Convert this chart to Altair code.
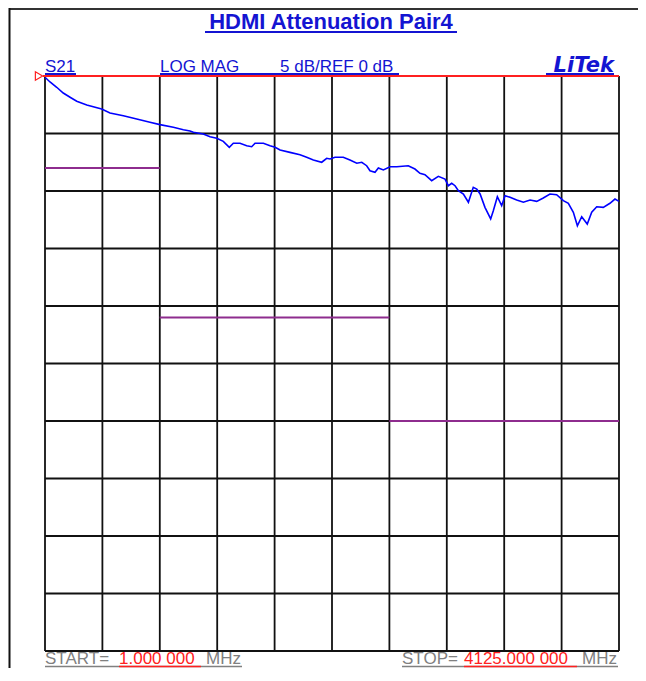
import altair as alt
import pandas as pd

# ---- data ----
freq_mhz = [1, 37, 85, 132, 181, 229, 301, 408, 468, 564, 660, 755, 827, 923, 995, 1043,
            1067, 1138, 1187, 1235, 1282, 1325, 1354, 1402, 1450, 1486, 1510, 1570, 1618,
            1654, 1690, 1761, 1833, 1881, 1929, 1989, 2025, 2049, 2085, 2144, 2192, 2241,
            2277, 2312, 2336, 2372, 2396, 2432, 2480, 2528, 2611, 2659, 2695, 2731, 2779,
            2827, 2875, 2899, 2923, 2947, 2971, 3007, 3043, 3078, 3103, 3127, 3162, 3203,
            3222, 3251, 3282, 3306, 3342, 3390, 3438, 3486, 3534, 3581, 3629, 3677, 3725,
            3761, 3797, 3826, 3857, 3897, 3929, 3965, 4012, 4060, 4096, 4125]
s21_db = [-0.11, -0.52, -0.98, -1.48, -1.85, -2.20, -2.52, -2.87, -3.22, -3.45, -3.74, -4.03,
          -4.23, -4.46, -4.67, -4.78, -4.90, -5.04, -5.28, -5.42, -5.68, -6.20, -5.85, -5.85,
          -6.06, -6.15, -5.85, -5.85, -6.06, -6.20, -6.44, -6.64, -6.84, -7.07, -7.30, -7.50,
          -7.16, -7.22, -7.07, -7.07, -7.30, -7.59, -7.50, -7.80, -8.24, -8.37, -8.00, -8.17,
          -7.89, -7.89, -7.80, -8.09, -8.46, -8.58, -9.10, -8.72, -8.96, -9.54, -9.33, -9.54,
          -9.97, -10.26, -10.98, -9.68, -9.83, -10.26, -11.42, -12.43, -11.71, -10.50, -11.28,
          -10.41, -10.55, -10.78, -10.98, -10.78, -10.90, -10.61, -10.26, -10.32, -10.84,
          -11.07, -11.85, -13.02, -12.24, -12.87, -11.85, -11.37, -11.42, -11.07, -10.70, -10.90]

limit_f_start = [1, 825, 2475]
limit_f_end = [825, 2475, 4125]
limit_db = [-8, -21, -30]

START, STOP = 1.0, 4125.0
REF_DB, BOTTOM_DB, DB_PER_DIV = 0, -50, 5
x_ticks = [START + (STOP - START) * i / 10 for i in range(11)]
y_ticks = list(range(BOTTOM_DB, REF_DB + 1, DB_PER_DIV))

W, H = 574, 575
BLUE = "#1414D2"
RED = "#FF2020"
GREY = "#808080"
PURPLE = "#8E2C8E"
FONT = "Liberation Sans"

xs = alt.Scale(domain=[START, STOP], nice=False, zero=False)
ys = alt.Scale(domain=[BOTTOM_DB, REF_DB], nice=False, zero=False)

curve_df = pd.DataFrame({"f": freq_mhz, "db": s21_db})
limit_df = pd.DataFrame({"f0": limit_f_start, "f1": limit_f_end, "db": limit_db})
vgrid_df = pd.DataFrame({"f": x_ticks, "lo": BOTTOM_DB, "hi": REF_DB})
hgrid_df = pd.DataFrame({"db": y_ticks, "f0": START, "f1": STOP})
ref_df = pd.DataFrame({"db": [REF_DB]})
one = pd.DataFrame({"k": [0]})

vgrid = alt.Chart(vgrid_df).mark_rule(color="#111111", strokeWidth=1.8).encode(
    x=alt.X("f:Q", scale=xs, axis=None),
    y=alt.Y("lo:Q", scale=ys, axis=None),
    y2="hi:Q",
)
hgrid = alt.Chart(hgrid_df).mark_rule(color="#111111", strokeWidth=1.8).encode(
    y=alt.Y("db:Q", scale=ys, axis=None),
    x=alt.X("f0:Q", scale=xs, axis=None),
    x2="f1:Q",
)
limits = alt.Chart(limit_df).mark_rule(color=PURPLE, strokeWidth=2).encode(
    x=alt.X("f0:Q", scale=xs, axis=None),
    x2="f1:Q",
    y=alt.Y("db:Q", scale=ys, axis=None),
)
curve = alt.Chart(curve_df).mark_line(color="#0000FF", strokeWidth=1.6, clip=True).encode(
    x=alt.X("f:Q", scale=xs, axis=None),
    y=alt.Y("db:Q", scale=ys, axis=None),
)
refline = alt.Chart(ref_df).mark_rule(color=RED, strokeWidth=2).encode(
    y=alt.Y("db:Q", scale=ys, axis=None),
    x=alt.value(-2),
    x2=alt.value(W),
)
refmark = alt.Chart(ref_df).mark_point(shape="triangle-right", filled=False, color=RED,
                                       strokeWidth=1.2, size=70, opacity=1).encode(
    y=alt.Y("db:Q", scale=ys, axis=None),
    x=alt.value(-6),
)


def txt(text, x, y, color, size, align="left", weight="normal", style="normal", font=FONT):
    return alt.Chart(one).mark_text(text=text, align=align, baseline="alphabetic",
                                    color=color, fontSize=size, fontWeight=weight,
                                    fontStyle=style, font=font).encode(
        x=alt.value(x), y=alt.value(y))


def uline(x0, x1, y, color, w=2):
    return alt.Chart(one).mark_rule(color=color, strokeWidth=w).encode(
        x=alt.value(x0), x2=alt.value(x1), y=alt.value(y))


texts = [
    txt("HDMI Attenuation Pair4", 286, -47, BLUE, 22, align="center", weight="bold"),
    uline(160, 412, -44, BLUE),
    txt("S21", 0, -4, BLUE, 17),
    uline(0, 31, -2, BLUE),
    txt("LOG MAG", 115, -4, BLUE, 17),
    txt("5 dB/REF 0 dB", 235, -4, BLUE, 17),
    uline(115, 354, -2, BLUE),
    txt("LiTek", 569, -4, BLUE, 21, align="right", weight="bold", style="italic",
        font="DejaVu Sans"),
    uline(501, 569, -2, BLUE),
    txt("START=", 0, 588, GREY, 17),
    txt("1.000 000", 74, 588, RED, 17),
    txt("MHz", 161, 588, GREY, 17),
    uline(0, 197, 590.5, GREY, 1.5),
    uline(74, 156, 590.5, RED, 1.5),
    txt("STOP=", 357, 588, GREY, 17),
    txt("4125.000 000", 419, 588, RED, 17),
    txt("MHz", 537, 588, GREY, 17),
    uline(357, 573, 590.5, GREY, 1.5),
    uline(419, 532, 590.5, RED, 1.5),
    # outer frame
    uline(-36, 593, -67, "#333333", 2),
    alt.Chart(one).mark_rule(color="#111111", strokeWidth=2).encode(
        x=alt.value(-35.5), y=alt.value(-68), y2=alt.value(592)),
]

chart = alt.layer(vgrid, hgrid, limits, curve, refline, refmark, *texts).properties(
    width=W, height=H,
    padding={"left": 37, "top": 68, "right": 19, "bottom": 17},
    autosize=alt.AutoSizeParams(type="none"),
    background="white",
).configure_view(stroke=None)

chart.save("out.html", embed_options={"renderer": "svg", "actions": False})
